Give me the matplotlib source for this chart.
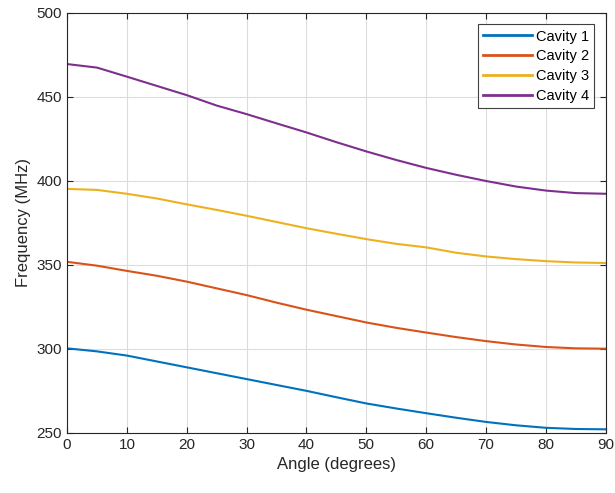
import matplotlib
matplotlib.use("Agg")
import matplotlib.pyplot as plt

# angle samples (degrees)
angle = [0, 5, 10, 15, 20, 25, 30, 35, 40, 45, 50, 55, 60, 65, 70, 75, 80, 85, 90]

# resonant frequency of each cavity (MHz)
cavity1 = [300.3, 298.5, 296.0, 292.5, 289.0, 285.5, 282.0, 278.5, 275.0, 271.2,
           267.5, 264.5, 261.7, 259.0, 256.5, 254.5, 253.0, 252.3, 252.1]
cavity2 = [351.8, 349.5, 346.4, 343.5, 340.0, 336.0, 332.0, 327.5, 323.3, 319.5,
           315.7, 312.5, 309.7, 307.0, 304.6, 302.6, 301.1, 300.3, 300.1]
cavity3 = [395.2, 394.6, 392.3, 389.5, 386.0, 382.7, 379.2, 375.5, 371.8, 368.5,
           365.3, 362.5, 360.4, 357.2, 355.0, 353.4, 352.2, 351.4, 351.1]
cavity4 = [469.5, 467.4, 462.0, 456.5, 451.0, 444.8, 439.7, 434.2, 428.8, 423.0,
           417.5, 412.4, 407.7, 403.6, 399.9, 396.6, 394.2, 392.7, 392.3]

labels = ["Cavity 1", "Cavity 2", "Cavity 3", "Cavity 4"]
colors = ["#0072BD", "#D95319", "#EDB120", "#7E2F8E"]

plt.rcParams['font.family'] = ['Liberation Sans', 'DejaVu Sans']

fig = plt.figure(figsize=(6.15, 4.93), dpi=100)
ax = fig.add_axes([0.109, 0.122, 0.876, 0.852])

for ys, lab, c in zip([cavity1, cavity2, cavity3, cavity4], labels, colors):
    ax.plot(angle, ys, color=c, linewidth=1.5, label=lab)

ax.set_xlim(0, 90)
ax.set_ylim(250, 500)
ax.set_xticks(range(0, 91, 10))
ax.set_yticks(range(250, 501, 50))
ax.grid(True, color="#dcdcdc", linewidth=0.8)
ax.set_axisbelow(True)
ax.tick_params(direction="in", top=True, right=True, labelsize=11,
               colors="#262626", length=4)
for s in ax.spines.values():
    s.set_color("#262626")
    s.set_linewidth(0.8)

ax.set_xlabel("Angle (degrees)", fontsize=12, color="#262626")
ax.set_ylabel("Frequency (MHz)", fontsize=12, color="#262626")

leg = ax.legend(loc="upper right", fontsize=10.5, fancybox=False, framealpha=1,
                edgecolor="#404040", handlelength=3.4, handletextpad=0.25,
                borderaxespad=0.8, labelspacing=0.4, borderpad=0.35)
leg.get_frame().set_linewidth(0.8)
for line in leg.get_lines():
    line.set_linewidth(2)

fig.savefig("out.png", dpi=100)
plt.close(fig)
